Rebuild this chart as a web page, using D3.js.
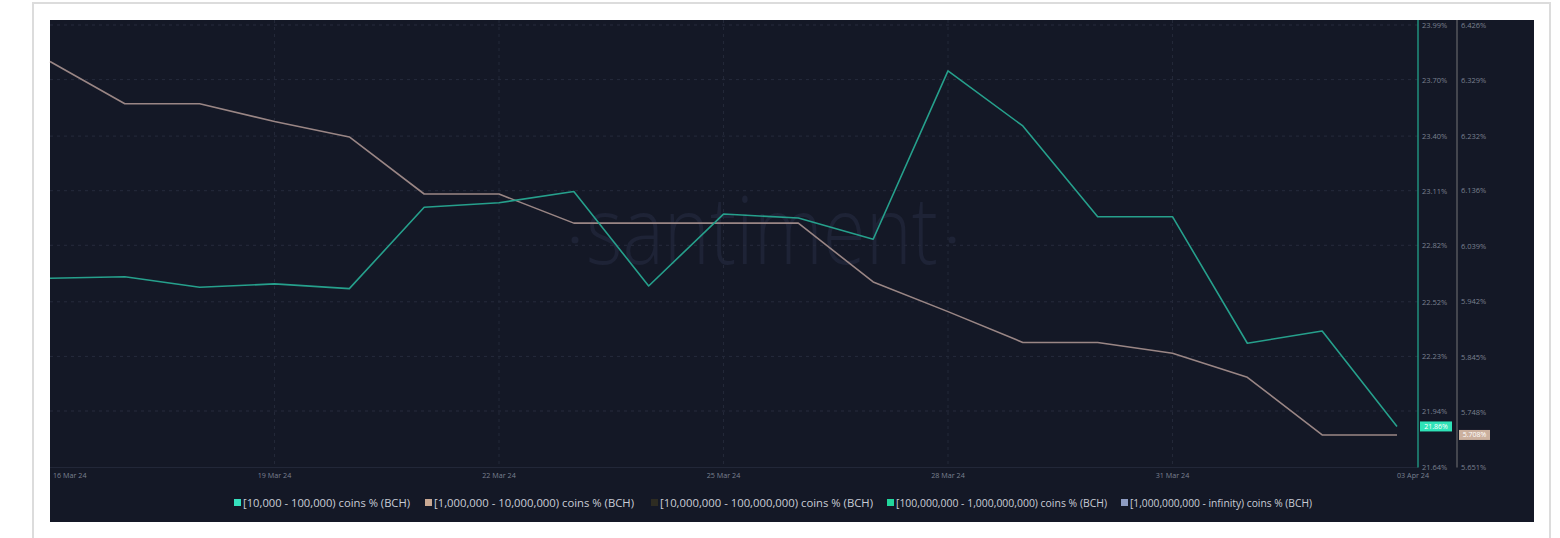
<!DOCTYPE html>
<html>
<head>
<meta charset="utf-8">
<script src="https://cdn.jsdelivr.net/npm/d3@7"></script>
<style>
  html, body { margin: 0; padding: 0; background: #ffffff; }
  svg { display: block; }
  text { font-family: "Open Sans", "Noto Sans", sans-serif; }
</style>
</head>
<body>
<svg id="chart" width="1560" height="538"></svg>
<script>
// ---------- data ----------
const dates = ["2024-03-16","2024-03-17","2024-03-18","2024-03-19","2024-03-20","2024-03-21",
  "2024-03-22","2024-03-23","2024-03-24","2024-03-25","2024-03-26","2024-03-27","2024-03-28",
  "2024-03-29","2024-03-30","2024-03-31","2024-04-01","2024-04-02","2024-04-03"];
const seriesTeal = [22.645, 22.653, 22.597, 22.615, 22.590, 23.022, 23.046, 23.106, 22.604,
  22.986, 22.965, 22.852, 23.746, 23.454, 22.972, 22.972, 22.300, 22.365, 21.858];
const seriesGrey = [6.362, 6.288, 6.288, 6.257, 6.230, 6.130, 6.130, 6.079, 6.079,
  6.079, 6.079, 5.976, 5.924, 5.870, 5.870, 5.851, 5.809, 5.708, 5.708];
const tealTicks = [21.64, 21.94, 22.23, 22.52, 22.82, 23.11, 23.40, 23.70, 23.99];
const tealTickLabels = ["21.64%","21.94%","22.23%","22.52%","22.82%","23.11%","23.40%","23.70%","23.99%"];
const greyTicks = [5.651, 5.748, 5.845, 5.942, 6.039, 6.136, 6.232, 6.329, 6.426];
const greyTickLabels = ["5.651%","5.748%","5.845%","5.942%","6.039%","6.136%","6.232%","6.329%","6.426%"];
const xTickDates = ["2024-03-16","2024-03-19","2024-03-22","2024-03-25","2024-03-28","2024-03-31","2024-04-03"];
const xTickLabels = ["16 Mar 24","19 Mar 24","22 Mar 24","25 Mar 24","28 Mar 24","31 Mar 24","03 Apr 24"];
const legendLabels = ["[10,000 - 100,000) coins % (BCH)", "[1,000,000 - 10,000,000) coins % (BCH)",
  "[10,000,000 - 100,000,000) coins % (BCH)", "[100,000,000 - 1,000,000,000) coins % (BCH)",
  "[1,000,000,000 - infinity) coins % (BCH)"];
const legendColors = ["#35e0bd", "#c9a892", "#2e2c22", "#22d69c", "#8e9cc2"];
const lastTeal = "21.86%";
const lastGrey = "5.708%";

// ---------- layout ----------
const svg = d3.select("#chart");
const P = {x0: 50, y0: 20, x1: 1534, y1: 522};
const plot = {left: 50, right: 1397, top: 25, bottom: 467.5};
const axisTealX = 1418, axisGreyX = 1457;

const parse = d3.utcParse("%Y-%m-%d");
const x = d3.scaleUtc().domain([parse(dates[0]), parse(dates[dates.length-1])]).range([plot.left, plot.right]);
const yT = d3.scaleLinear().domain([tealTicks[0], tealTicks[tealTicks.length-1]]).range([plot.bottom, plot.top]);
const yG = d3.scaleLinear().domain([greyTicks[0], greyTicks[greyTicks.length-1]]).range([plot.bottom, plot.top]);

// outer frame
svg.append("rect").attr("x", 33).attr("y", 3).attr("width", 1517).attr("height", 560)
  .attr("fill", "#ffffff").attr("stroke", "#dcdcdc").attr("stroke-width", 2);
// dark panel
svg.append("rect").attr("x", P.x0).attr("y", P.y0).attr("width", P.x1 - P.x0).attr("height", P.y1 - P.y0)
  .attr("fill", "#141826");

// watermark
const wm = svg.append("g").attr("fill", "#1e2336");
wm.append("text").attr("x", 586).attr("y", 264).attr("font-size", 94).attr("font-weight", 300)
  .attr("textLength", 352).attr("lengthAdjust", "spacingAndGlyphs").text("santiment");
wm.append("circle").attr("cx", 575).attr("cy", 240).attr("r", 3.5);
wm.append("circle").attr("cx", 952).attr("cy", 240).attr("r", 3.5);

// horizontal grid
svg.append("g").selectAll("line").data(tealTicks.slice(1)).join("line")
  .attr("x1", P.x0).attr("x2", axisTealX).attr("y1", d => yT(d)).attr("y2", d => yT(d))
  .attr("stroke", "#262b3c").attr("stroke-width", 1).attr("stroke-dasharray", "3,4");
// bottom baseline
svg.append("line").attr("x1", P.x0).attr("x2", axisTealX).attr("y1", yT(tealTicks[0])).attr("y2", yT(tealTicks[0]))
  .attr("stroke", "#222738").attr("stroke-width", 1);
// vertical grid
svg.append("g").selectAll("line").data(xTickDates.slice(1, -1)).join("line")
  .attr("x1", d => x(parse(d))).attr("x2", d => x(parse(d))).attr("y1", P.y0).attr("y2", plot.bottom)
  .attr("stroke", "#232838").attr("stroke-width", 1).attr("stroke-dasharray", "3,4");

// x axis labels
const xg = svg.append("g").attr("font-size", 7.2).attr("fill", "#7a8090");
xTickDates.forEach((d, i) => {
  const px = x(parse(d));
  let anchor = "middle", tx = px;
  if (i === 0) { anchor = "start"; tx = px + 3; }
  if (i === xTickDates.length - 1) { anchor = "start"; tx = px + 0; }
  xg.append("text").attr("x", tx).attr("y", 477.5).attr("text-anchor", anchor).text(xTickLabels[i]);
});

// right axes
const axT = d3.axisRight(yT).tickValues(tealTicks).tickFormat((d, i) => tealTickLabels[i]).tickSize(0).tickPadding(4);
const gT = svg.append("g").attr("transform", `translate(${axisTealX},0)`).call(axT);
gT.select(".domain").remove();
gT.selectAll("text").attr("font-size", 7.5).attr("fill", "#7a8090").attr("font-family", "Open Sans, sans-serif");
svg.append("line").attr("x1", axisTealX).attr("x2", axisTealX).attr("y1", P.y0).attr("y2", plot.bottom)
  .attr("stroke", "#1f8f7e").attr("stroke-width", 1.5);

const axG = d3.axisRight(yG).tickValues(greyTicks).tickFormat((d, i) => greyTickLabels[i]).tickSize(0).tickPadding(4);
const gG = svg.append("g").attr("transform", `translate(${axisGreyX},0)`).call(axG);
gG.select(".domain").remove();
gG.selectAll("text").attr("font-size", 7.5).attr("fill", "#7a8090").attr("font-family", "Open Sans, sans-serif");
svg.append("line").attr("x1", axisGreyX).attr("x2", axisGreyX).attr("y1", P.y0).attr("y2", plot.bottom)
  .attr("stroke", "#55565c").attr("stroke-width", 1.5);

// lines
const lineT = d3.line().x((d, i) => x(parse(dates[i]))).y(d => yT(d));
const lineG = d3.line().x((d, i) => x(parse(dates[i]))).y(d => yG(d));
svg.append("path").datum(seriesGrey).attr("d", lineG).attr("fill", "none")
  .attr("stroke", "#9a8685").attr("stroke-width", 1.6).attr("stroke-linejoin", "round");
svg.append("path").datum(seriesTeal).attr("d", lineT).attr("fill", "none")
  .attr("stroke", "#26a08c").attr("stroke-width", 1.6).attr("stroke-linejoin", "round");

// last-value tags
const tagT = yT(seriesTeal[seriesTeal.length-1]);
svg.append("rect").attr("x", axisTealX + 2).attr("y", tagT - 5).attr("width", 32).attr("height", 10).attr("fill", "#2fe3b8");
svg.append("text").attr("x", axisTealX + 18).attr("y", tagT + 2.5).attr("text-anchor", "middle")
  .attr("font-size", 7).attr("fill", "#ffffff").text(lastTeal);
const tagG = yG(seriesGrey[seriesGrey.length-1]);
svg.append("rect").attr("x", axisGreyX + 2).attr("y", tagG - 5).attr("width", 31).attr("height", 10).attr("fill", "#cbb09e");
svg.append("text").attr("x", axisGreyX + 17.5).attr("y", tagG + 2.5).attr("text-anchor", "middle")
  .attr("font-size", 7).attr("fill", "#ffffff").text(lastGrey);

// legend
const legendX = [234, 425, 651, 887, 1121];
const legendW = [167, 200, 213, 211, 182];
const lg = svg.append("g");
legendLabels.forEach((l, i) => {
  lg.append("rect").attr("x", legendX[i]).attr("y", 499).attr("width", 7).attr("height", 7).attr("fill", legendColors[i]);
  lg.append("text").attr("x", legendX[i] + 9).attr("y", 506.5).attr("font-size", 10.5).attr("fill", "#c9cdd6")
    .attr("textLength", legendW[i]).attr("lengthAdjust", "spacingAndGlyphs").text(l);
});
</script>
</body>
</html>
